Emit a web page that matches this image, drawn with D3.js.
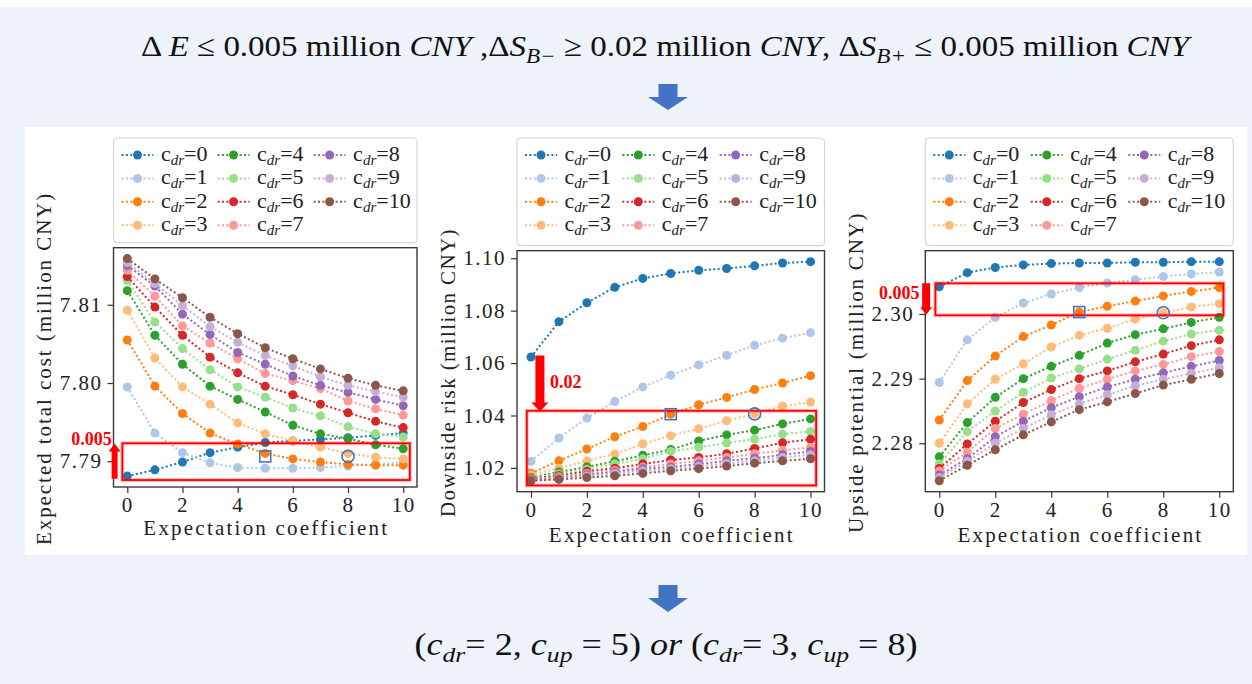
<!DOCTYPE html>
<html>
<head>
<meta charset="utf-8">
<style>
  body { margin: 0; background: #fff; }
  svg { display: block; }
  .sf { font-family: "Liberation Serif", "Times New Roman", "DejaVu Serif", serif; }
</style>
</head>
<body>
<svg width="1252" height="684"></svg>
<script src="https://cdn.jsdelivr.net/npm/d3@7"></script>
<script>

// expectation coefficient (x) and the c_dr series labels
var coeffs = [0, 1, 2, 3, 4, 5, 6, 7, 8, 9, 10];
var cdrLabels = ["0", "1", "2", "3", "4", "5", "6", "7", "8", "9", "10"];
var colors = ["#1f77b4", "#aec7e8", "#ff7f0e", "#ffbb78", "#2ca02c", "#98df8a",
              "#d62728", "#ff9896", "#9467bd", "#c5b0d5", "#8c564b"];

// expected total cost, one row per c_dr
var costValues = [
  [7.7881, 7.7889, 7.7899, 7.7911, 7.7918, 7.7924, 7.7926, 7.7928, 7.7930, 7.7933, 7.7936],
  [7.7995, 7.7936, 7.7911, 7.7898, 7.7892, 7.7891, 7.7891, 7.7892, 7.7894, 7.7896, 7.7899],
  [7.8055, 7.7996, 7.7961, 7.7936, 7.7922, 7.7910, 7.7903, 7.7899, 7.7896, 7.7895, 7.7895],
  [7.8093, 7.8032, 7.7995, 7.7973, 7.7949, 7.7935, 7.7926, 7.7918, 7.7910, 7.7905, 7.7903],
  [7.8118, 7.8061, 7.8024, 7.7996, 7.7979, 7.7963, 7.7946, 7.7935, 7.7929, 7.7921, 7.7916],
  [7.8131, 7.8078, 7.8044, 7.8017, 7.7995, 7.7982, 7.7968, 7.7958, 7.7944, 7.7935, 7.7931],
  [7.8136, 7.8097, 7.8061, 7.8033, 7.8013, 7.7996, 7.7985, 7.7973, 7.7962, 7.7951, 7.7943],
  [7.8144, 7.8111, 7.8073, 7.8051, 7.8031, 7.8012, 7.8003, 7.7993, 7.7977, 7.7967, 7.7959],
  [7.8150, 7.8124, 7.8088, 7.8062, 7.8039, 7.8024, 7.8009, 7.7997, 7.7988, 7.7979, 7.7971],
  [7.8154, 7.8127, 7.8099, 7.8072, 7.8052, 7.8035, 7.8022, 7.8008, 7.7997, 7.7989, 7.7982],
  [7.8159, 7.8133, 7.8109, 7.8084, 7.8063, 7.8045, 7.8031, 7.8018, 7.8006, 7.7997, 7.7990]
];

// downside risk
var riskValues = [
  [1.0623, 1.0758, 1.0830, 1.0889, 1.0923, 1.0942, 1.0954, 1.0961, 1.0971, 1.0982, 1.0987],
  [1.0225, 1.0314, 1.0390, 1.0453, 1.0509, 1.0554, 1.0593, 1.0630, 1.0668, 1.0695, 1.0716],
  [1.0180, 1.0227, 1.0272, 1.0319, 1.0358, 1.0405, 1.0441, 1.0469, 1.0499, 1.0524, 1.0552],
  [1.0174, 1.0199, 1.0227, 1.0253, 1.0292, 1.0323, 1.0349, 1.0380, 1.0406, 1.0436, 1.0451],
  [1.0164, 1.0184, 1.0204, 1.0225, 1.0248, 1.0270, 1.0303, 1.0326, 1.0344, 1.0368, 1.0387],
  [1.0161, 1.0177, 1.0194, 1.0215, 1.0235, 1.0263, 1.0279, 1.0295, 1.0310, 1.0329, 1.0339],
  [1.0159, 1.0171, 1.0187, 1.0199, 1.0215, 1.0230, 1.0240, 1.0254, 1.0274, 1.0296, 1.0309],
  [1.0156, 1.0166, 1.0179, 1.0190, 1.0203, 1.0215, 1.0227, 1.0240, 1.0254, 1.0267, 1.0278],
  [1.0154, 1.0161, 1.0174, 1.0184, 1.0197, 1.0203, 1.0215, 1.0227, 1.0237, 1.0250, 1.0263],
  [1.0151, 1.0159, 1.0169, 1.0179, 1.0189, 1.0197, 1.0206, 1.0217, 1.0227, 1.0240, 1.0250],
  [1.0151, 1.0156, 1.0163, 1.0170, 1.0179, 1.0189, 1.0197, 1.0207, 1.0218, 1.0227, 1.0235]
];

// upside potential
var upsideValues = [
  [2.3042, 2.3064, 2.3072, 2.3076, 2.3078, 2.3079, 2.3079, 2.3080, 2.3080, 2.3081, 2.3081],
  [2.2894, 2.2960, 2.2995, 2.3017, 2.3031, 2.3041, 2.3048, 2.3053, 2.3058, 2.3062, 2.3065],
  [2.2836, 2.2897, 2.2935, 2.2965, 2.2983, 2.3003, 2.3012, 2.3020, 2.3028, 2.3035, 2.3041],
  [2.2800, 2.2861, 2.2899, 2.2923, 2.2949, 2.2967, 2.2978, 2.2992, 2.3002, 2.3011, 2.3016],
  [2.2779, 2.2832, 2.2871, 2.2900, 2.2919, 2.2936, 2.2955, 2.2968, 2.2977, 2.2987, 2.2995],
  [2.2768, 2.2818, 2.2850, 2.2879, 2.2901, 2.2915, 2.2930, 2.2944, 2.2958, 2.2969, 2.2975],
  [2.2761, 2.2799, 2.2834, 2.2863, 2.2883, 2.2900, 2.2912, 2.2926, 2.2938, 2.2951, 2.2960],
  [2.2757, 2.2786, 2.2823, 2.2845, 2.2866, 2.2885, 2.2899, 2.2912, 2.2922, 2.2934, 2.2942],
  [2.2751, 2.2776, 2.2810, 2.2834, 2.2855, 2.2872, 2.2887, 2.2899, 2.2909, 2.2919, 2.2928],
  [2.2747, 2.2772, 2.2800, 2.2823, 2.2844, 2.2861, 2.2875, 2.2889, 2.2899, 2.2908, 2.2917],
  [2.2742, 2.2766, 2.2790, 2.2813, 2.2833, 2.2852, 2.2864, 2.2877, 2.2890, 2.2899, 2.2908]
];

var xTicks = [0, 2, 4, 6, 8, 10];
var costTicks = [7.79, 7.80, 7.81];
var riskTicks = [1.02, 1.04, 1.06, 1.08, 1.10];
var upsideTicks = [2.28, 2.29, 2.30];

// selected points: (c_dr=2, c_up=5) and (c_dr=3, c_up=8)
var picks = [{series: 2, x: 5, shape: "square"}, {series: 3, x: 8, shape: "circle"}];

var blue = "#4472C4";

var panels = [
  {values: costValues, ticks: costTicks, ylabel: "Expected total cost (million CNY)",
   left: 113.5, top: 247.7, w: 303.5, h: 239.3, xlabDy: 41,
   rect: [-0.18, 10.24, 7.7876, 7.7923], pickDy: 3,
   arrow: {x: -0.46, from: 7.78777, to: 7.79228, shaft: 6, head: 12, headLen: 8},
   note: {text: "0.005", x: -0.565, y: 7.79292, anchor: "end"}},
  {values: riskValues, ticks: riskTicks, ylabel: "Downside risk (million CNY)",
   left: 517, top: 250.7, w: 307.5, h: 241, xlabDy: 43.3,
   rect: [-0.15, 10.2, 1.0133, 1.0418], pickDy: 0,
   arrow: {x: 0.32, from: 1.06286, to: 1.04152, shaft: 9, head: 17, headLen: 9},
   note: {text: "0.02", x: 0.68, y: 1.05295, anchor: "start"}},
  {values: upsideValues, ticks: upsideTicks, ylabel: "Upside potential (million CNY)",
   left: 925.3, top: 250.7, w: 308, h: 241, xlabDy: 43.3,
   rect: [-0.14, 10.15, 2.2998, 2.30475], pickDy: 0,
   arrow: {x: -0.47, from: 2.30475, to: 2.2999, shaft: 8, head: 12, headLen: 7.5},
   note: {text: "0.005", x: -0.71, y: 2.30336, anchor: "end"}}
];

var svg = d3.select("svg");

// slide background and white figure area
svg.append("rect").attr("x", 0).attr("y", 7).attr("width", 1252).attr("height", 677).attr("fill", "#eef2fa");
svg.append("rect").attr("x", 25).attr("y", 127).attr("width", 1222).attr("height", 428).attr("fill", "#fff");

function blockArrow(cx, y0, y1, shaft, head, headLen) {
  var dir = y1 > y0 ? 1 : -1;
  var yh = y1 - dir * headLen;
  return "M" + (cx - shaft / 2) + "," + y0 + "L" + (cx + shaft / 2) + "," + y0 +
         "L" + (cx + shaft / 2) + "," + yh + "L" + (cx + head / 2) + "," + yh +
         "L" + cx + "," + y1 + "L" + (cx - head / 2) + "," + yh +
         "L" + (cx - shaft / 2) + "," + yh + "Z";
}

function part(t, txt, italic, dy, size) {
  var s = t.append("tspan").text(txt);
  if (italic) s.attr("font-style", "italic");
  if (dy) s.attr("dy", dy);
  if (size) s.attr("font-size", size);
  return s;
}

// top condition text
var title = svg.append("text")
    .attr("class", "sf")
    .attr("x", 665).attr("y", 56)
    .attr("text-anchor", "middle")
    .attr("font-size", 30)
    .attr("fill", "#111")
    .attr("textLength", 1048)
    .attr("lengthAdjust", "spacingAndGlyphs");
part(title, "\u0394 ");
part(title, "E", true);
part(title, " \u2264 0.005 million ");
part(title, "CNY", true);
part(title, " ,\u0394");
part(title, "S", true);
part(title, "B\u2212", true, 7, 21);
part(title, " \u2265 0.02 million ", false, -7);
part(title, "CNY", true);
part(title, ", \u0394");
part(title, "S", true);
part(title, "B+", true, 7, 21);
part(title, " \u2264 0.005 million ", false, -7);
part(title, "CNY", true);

svg.append("path").attr("d", blockArrow(668, 84, 110, 19, 40, 13)).attr("fill", blue);
svg.append("path").attr("d", blockArrow(668, 585, 612, 19, 40, 14)).attr("fill", blue);

// bottom result text
var result = svg.append("text")
    .attr("class", "sf")
    .attr("x", 666).attr("y", 655)
    .attr("text-anchor", "middle")
    .attr("font-size", 31)
    .attr("fill", "#111")
    .attr("textLength", 503)
    .attr("lengthAdjust", "spacingAndGlyphs");
part(result, "(");
part(result, "c", true);
part(result, "dr", true, 7, 22);
part(result, "= 2, ", false, -7);
part(result, "c", true);
part(result, "up", true, 7, 22);
part(result, " = 5) ", false, -7);
part(result, "or", true);
part(result, " (");
part(result, "c", true);
part(result, "dr", true, 7, 22);
part(result, "= 3, ", false, -7);
part(result, "c", true);
part(result, "up", true, 7, 22);
part(result, " = 8)", false, -7);

panels.forEach(function(p) {
  var g = svg.append("g").attr("transform", "translate(" + p.left + "," + p.top + ")");

  var all = d3.merge(p.values);
  var lo = d3.min(all), hi = d3.max(all), pad = (hi - lo) * 0.05;

  var x = d3.scaleLinear().domain([-0.5, 10.5]).range([0, p.w]);
  var y = d3.scaleLinear().domain([lo - pad, hi + pad]).range([p.h, 0]);

  // axes
  var xa = g.append("g").attr("transform", "translate(0," + p.h + ")")
      .call(d3.axisBottom(x).tickValues(xTicks).tickSize(6).tickPadding(4).tickSizeOuter(0));
  var ya = g.append("g")
      .call(d3.axisLeft(y).tickValues(p.ticks).tickSize(6).tickPadding(5).tickSizeOuter(0)
        .tickFormat(d3.format(".2f")));
  [xa, ya].forEach(function(a) {
    a.attr("font-family", null);
    a.select(".domain").remove();
    a.selectAll("line").attr("stroke", "#333").attr("stroke-width", 1.2);
    a.selectAll("text").attr("class", "sf").attr("font-size", 21)
      .attr("fill", "#222").attr("letter-spacing", 1.5);
  });

  // series
  var line = d3.line().x(function(d, i) { return x(coeffs[i]); }).y(function(d) { return y(d); });
  p.values.forEach(function(vals, k) {
    g.append("path").datum(vals)
      .attr("d", line)
      .attr("fill", "none")
      .attr("stroke", colors[k])
      .attr("stroke-width", 2)
      .attr("stroke-dasharray", "2,2.4");
    g.selectAll(null).data(vals).enter().append("circle")
      .attr("cx", function(d, i) { return x(coeffs[i]); })
      .attr("cy", function(d) { return y(d); })
      .attr("r", 4.5)
      .attr("fill", colors[k]);
  });

  // frame
  g.append("rect").attr("width", p.w).attr("height", p.h)
    .attr("fill", "none").attr("stroke", "#3a3a3a").attr("stroke-width", 1.4);

  // threshold box
  var rx0 = x(p.rect[0]), rx1 = x(p.rect[1]), ry0 = y(p.rect[3]), ry1 = y(p.rect[2]);
  g.append("rect").attr("x", rx0).attr("y", ry0).attr("width", rx1 - rx0).attr("height", ry1 - ry0)
    .attr("fill", "none").attr("stroke", "rgba(255,0,0,0.25)").attr("stroke-width", 4);
  g.append("rect").attr("x", rx0).attr("y", ry0).attr("width", rx1 - rx0).attr("height", ry1 - ry0)
    .attr("fill", "none").attr("stroke", "#ff0000").attr("stroke-width", 1.8);

  // chosen points
  picks.forEach(function(pk) {
    var cx = x(coeffs[pk.x]), cy = y(p.values[pk.series][pk.x]) + p.pickDy;
    if (pk.shape === "square") {
      g.append("rect").attr("x", cx - 5.5).attr("y", cy - 5.5).attr("width", 11).attr("height", 11)
        .attr("fill", "none").attr("stroke", blue).attr("stroke-width", 1.6);
    } else {
      g.append("circle").attr("cx", cx).attr("cy", cy).attr("r", 6)
        .attr("fill", "none").attr("stroke", blue).attr("stroke-width", 1.6);
    }
  });

  // red arrow and its label
  var a = p.arrow;
  g.append("path").attr("d", blockArrow(x(a.x), y(a.from), y(a.to), a.shaft, a.head, a.headLen))
    .attr("fill", "#ff0000");
  g.append("text").attr("class", "sf")
    .attr("x", x(p.note.x)).attr("y", y(p.note.y)).attr("dy", "0.35em")
    .attr("text-anchor", p.note.anchor)
    .attr("font-weight", "bold").attr("font-size", 18)
    .attr("fill", "#ff0000").text(p.note.text);

  // axis labels
  g.append("text").attr("class", "sf")
    .attr("transform", "translate(" + (-69.5) + "," + (p.h / 2 + 2) + ") rotate(-90)")
    .attr("text-anchor", "middle").attr("dy", "0.35em")
    .attr("font-size", 21).attr("fill", "#222")
    .attr("textLength", p.ylabel.length * 10.65).attr("lengthAdjust", "spacing")
    .text(p.ylabel);
  var xl = "Expectation coefficient";
  g.append("text").attr("class", "sf")
    .attr("x", p.w / 2).attr("y", p.h + p.xlabDy).attr("dy", "0.35em")
    .attr("text-anchor", "middle")
    .attr("font-size", 21).attr("fill", "#222")
    .attr("textLength", xl.length * 10.6).attr("lengthAdjust", "spacing")
    .text(xl);

  // legend: 3 columns, filled column by column
  var lg = svg.append("g").attr("transform", "translate(" + p.left + ",138)");
  var lh = p.top - 5 - 138;
  lg.append("rect").attr("width", p.w).attr("height", lh).attr("rx", 4)
    .attr("fill", "#fff").attr("stroke", "#d6d6d6").attr("stroke-width", 1.2);
  var colW = p.w * 0.3165;
  cdrLabels.forEach(function(lbl, k) {
    var col = Math.floor(k / 4), row = k % 4;
    var mx = 24 + col * colW, my = 17 + row * 23.4;
    lg.append("line").attr("x1", mx - 16).attr("x2", mx + 16).attr("y1", my).attr("y2", my)
      .attr("stroke", colors[k]).attr("stroke-width", 2).attr("stroke-dasharray", "2,2.4");
    lg.append("circle").attr("cx", mx).attr("cy", my).attr("r", 4.5).attr("fill", colors[k]);
    var t = lg.append("text").attr("class", "sf").attr("x", mx + 23.5).attr("y", my + 6)
      .attr("font-size", 22).attr("fill", "#222");
    t.append("tspan").text("c");
    t.append("tspan").attr("font-style", "italic").attr("font-size", 15).attr("dy", 4).text("dr");
    t.append("tspan").attr("dy", -4).text("=" + lbl);
  });
});

</script>
</body>
</html>
